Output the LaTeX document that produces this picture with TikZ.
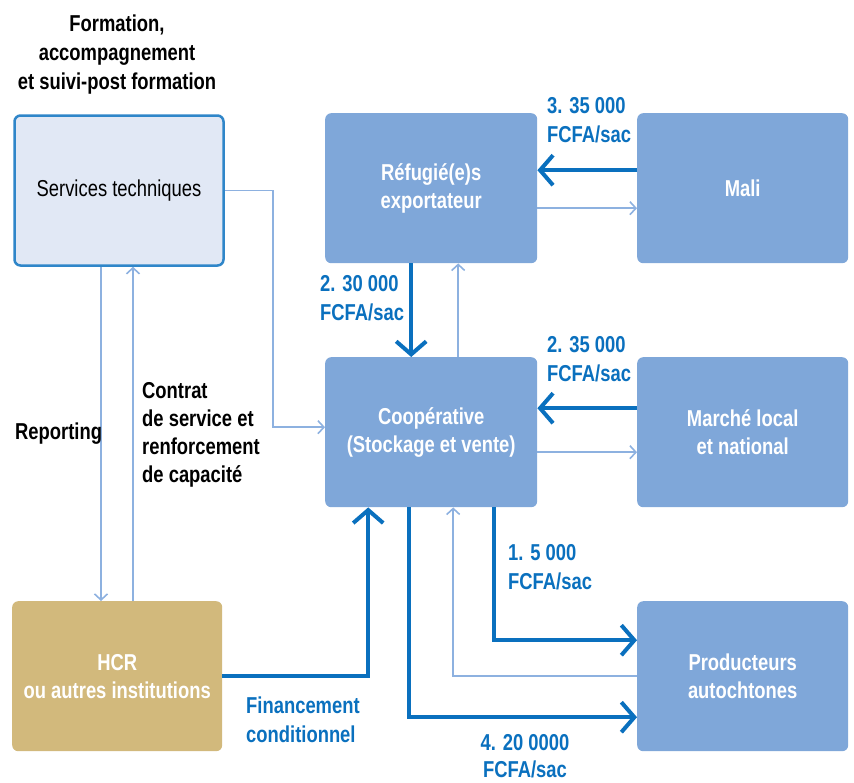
\documentclass[tikz,border=0pt]{standalone}
\usepackage{fontspec}
\setmainfont{Liberation Sans}[FakeStretch=0.8]
\usetikzlibrary{arrows.meta}
\definecolor{dkblue}{HTML}{0A70BE}
\definecolor{ltblue}{HTML}{8DB1E0}
\definecolor{boxblue}{HTML}{7FA7D9}
\definecolor{svcfill}{HTML}{E1E8F5}
\definecolor{svcdraw}{HTML}{2F86C9}
\definecolor{gold}{HTML}{D2B97C}
\tikzset{
  box/.style={rounded corners=6pt, minimum width=212pt, minimum height=150pt, inner sep=0pt,
    align=center, anchor=north west, fill=boxblue, text=white,
    font=\bfseries\fontsize{23}{28}\selectfont},
  thickarr/.style={draw=dkblue, line width=4pt, -{Straight Barb[length=13pt,width=30pt]}},
  thinarr/.style={draw=ltblue, line width=1.6pt, -{Straight Barb[length=6pt,width=13pt]}},
  lbl/.style={inner sep=0pt, anchor=north west, align=left, text=dkblue,
    font=\bfseries\fontsize{23}{29}\selectfont},
  blk/.style={inner sep=0pt, align=left, text=black,
    font=\bfseries\fontsize{23}{28}\selectfont}
}
\begin{document}
\begin{tikzpicture}[x=1pt,y=-1pt]
\useasboundingbox (0,0) rectangle (854,782);
% boxes
\node[box, fill=svcfill, draw=svcdraw, line width=2.5pt, text=black,
  font=\fontsize{23}{28}\selectfont, minimum width=209pt, minimum height=150pt]
  (svc) at (13.25,114.25) {Services techniques};
\node[box] (ref) at (325,113) {Réfugié(e)s\\exportateur};
\node[box, minimum width=211pt] (mali) at (637,113) {Mali};
\node[box] (coop) at (325,357) {Coopérative\\(Stockage et vente)};
\node[box, minimum width=211pt] (march) at (637,357) {Marché local\\et national};
\node[box, fill=gold, minimum width=210pt] (hcr) at (12,601) {HCR\\ou autres institutions};
\node[box, minimum width=211pt] (prod) at (637,601) {Producteurs\\autochtones};
% helper coordinates
\coordinate (xa) at (101,0);
\coordinate (xb) at (133,0);
\coordinate (xc) at (273,0);
\coordinate (cw) at ([yshift=5pt]coop.west);
% connectors
\draw[thinarr] (svc.east) -| (xc |- cw) -- (cw);
\draw[thinarr] (svc.south -| xa) -- (hcr.north -| xa);
\draw[thinarr] (hcr.north -| xb) -- (svc.south -| xb);
\draw[thickarr] ([yshift=18pt]mali.west) -- ([yshift=18pt]ref.east);
\draw[thinarr] ([yshift=-20pt]ref.east) -- ([yshift=-20pt]mali.west);
\draw[thickarr] ([xshift=-20pt]ref.south) -- ([xshift=-20pt]coop.north);
\draw[thinarr] ([xshift=27pt]coop.north) -- ([xshift=27pt]ref.south);
\draw[thickarr] ([yshift=24pt]march.west) -- ([yshift=24pt]coop.east);
\draw[thinarr] ([yshift=-20pt]coop.east) -- ([yshift=-20pt]march.west);
\draw[thickarr] (hcr.east) -| ([xshift=-63pt]coop.south);
\draw[thickarr] ([xshift=63pt]coop.south) |- ([yshift=36pt]prod.west);
\draw[thinarr] (prod.west) -| ([xshift=22pt]coop.south);
\draw[thickarr] ([xshift=-22pt]coop.south) |- ([yshift=-41pt]prod.west);
% labels
\node[blk, anchor=north, align=center, font=\bfseries\fontsize{23}{29}\selectfont]
  (form) at (117,15) {Formation,\\accompagnement\\et suivi-post formation};
\node[blk, anchor=north west] (rep) at (15,423) {Reporting};
\node[blk, anchor=north west] (contrat) at (142,382) {Contrat\\de service et\\renforcement\\de capacité};
\node[lbl] (p3) at (547,97) {3. 35 000\\FCFA/sac};
\node[lbl] (p2a) at (320,275) {2. 30 000\\FCFA/sac};
\node[lbl] (p2b) at (547,336) {2. 35 000\\FCFA/sac};
\node[lbl] (p1) at (508,544) {1. 5 000\\FCFA/sac};
\node[lbl, anchor=north, align=center, font=\bfseries\fontsize{23}{27}\selectfont] (p4) at (525,734) {4. 20 0000\\FCFA/sac};
\node[lbl] (fin) at (246,697) {Financement\\conditionnel};
\end{tikzpicture}
\end{document}
